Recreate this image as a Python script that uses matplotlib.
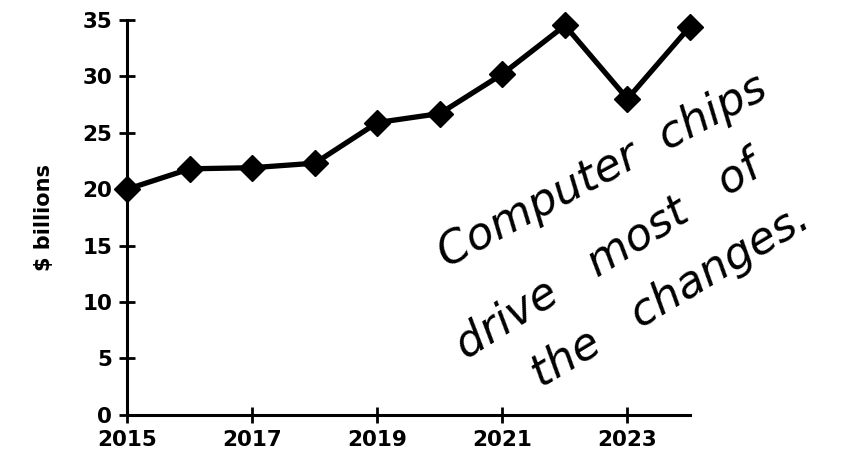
import matplotlib
matplotlib.use("Agg")
import matplotlib.pyplot as plt

years = [2015, 2016, 2017, 2018, 2019, 2020, 2021, 2022, 2023, 2024]
values = [20.0, 21.8, 21.9, 22.3, 25.9, 26.7, 30.2, 34.5, 28.0, 34.4]
xticks = [2015, 2017, 2019, 2021, 2023]
yticks = [0, 5, 10, 15, 20, 25, 30, 35]
note_lines = ["Computer  chips", "drive   most   of", "the   changes."]

plt.rcParams['font.family'] = ['DejaVu Sans']

fig = plt.figure(figsize=(8.55, 4.61), dpi=100)
ax = fig.add_axes([0.149, 0.100, 0.658, 0.857])

ax.plot(years, values, color='black', lw=3.8, marker='D', ms=13,
        markerfacecolor='black', markeredgecolor='black', clip_on=False, zorder=3)

ax.set_xlim(2015, 2024)
ax.set_ylim(0, 35)
ax.set_xticks(xticks)
ax.set_yticks(yticks)
for s in ['top', 'right']:
    ax.spines[s].set_visible(False)
for s in ['left', 'bottom']:
    ax.spines[s].set_linewidth(2.2)
ax.tick_params(direction='inout', length=12, width=2, labelsize=15.5, pad=5)
for lab in ax.get_xticklabels() + ax.get_yticklabels():
    lab.set_fontweight('bold')
ax.set_ylabel("$ billions", fontsize=15, fontweight='bold', labelpad=20)

# handwritten note
pos = [(0.522, 0.419), (0.545, 0.221), (0.633, 0.158)]
rots = [28, 32, 31]
for txt, (x, y), r in zip(note_lines, pos, rots):
    fig.text(x, y, txt, fontsize=32, rotation=r, rotation_mode='anchor',
             ha='left', va='baseline', style='italic', fontweight='light',
             color='black')

fig.savefig("out.png", dpi=100)
